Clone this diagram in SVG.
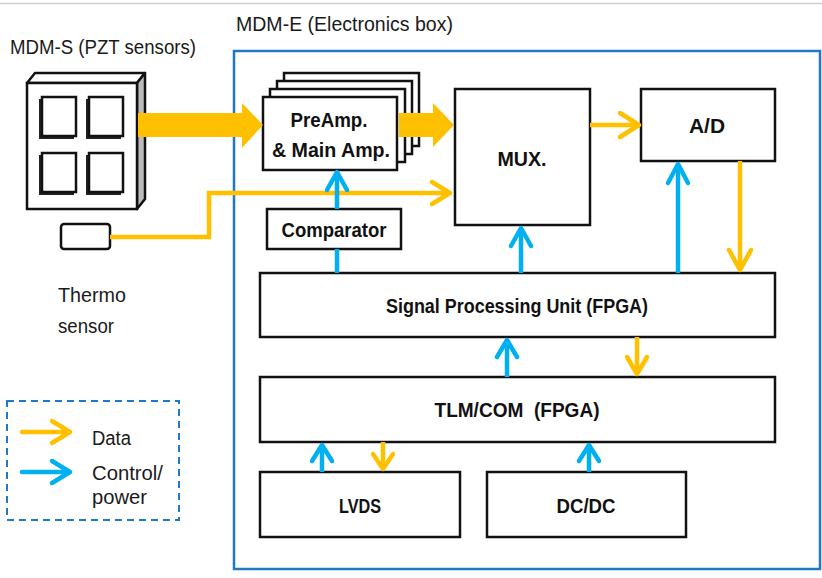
<svg xmlns="http://www.w3.org/2000/svg" width="822" height="578" viewBox="0 0 822 578">
<style>
.t{font-family:"Liberation Sans",Arial,sans-serif;font-size:20px;fill:#1a1a1a}
.b{font-family:"Liberation Sans",Arial,sans-serif;font-size:20px;font-weight:bold;fill:#111;text-anchor:middle}
.box{fill:#fff;stroke:#111;stroke-width:2.5}
.y{fill:none;stroke:#FFC000;stroke-width:4.5;stroke-linecap:round;stroke-linejoin:round}
.c{fill:none;stroke:#00B0F0;stroke-width:4.5;stroke-linecap:round;stroke-linejoin:round}
.ys{fill:none;stroke:#FFC000;stroke-width:4.5}
.cs{fill:none;stroke:#00B0F0;stroke-width:4.5}
</style>
<rect width="822" height="578" fill="#fff"/>
<line x1="0" y1="3.5" x2="822" y2="3.5" stroke="#cfcfcf" stroke-width="1.5"/>

<g id="title-e"><text class="t" x="236" y="31" textLength="217" lengthAdjust="spacingAndGlyphs">MDM-E (Electronics box)</text></g>
<g id="title-s"><text class="t" x="10" y="54" textLength="186" lengthAdjust="spacingAndGlyphs">MDM-S (PZT sensors)</text></g>

<g id="electronics-box"><rect x="234" y="51" width="586" height="518" fill="none" stroke="#1F78C8" stroke-width="2.5"/></g>

<g id="pzt-sensors">
<polygon points="27,83 35,73 145,73 137,83" fill="#fff" stroke="#111" stroke-width="2.5" stroke-linejoin="round"/>
<polygon points="137,83 145,73 145,199 137,209" fill="#bbb" stroke="#111" stroke-width="2.5" stroke-linejoin="round"/>
<rect x="27" y="83" width="110" height="126" class="box"/>
<rect x="39" y="99" width="35" height="40" fill="#222"/>
<rect x="42" y="97" width="34" height="39" fill="#fff" stroke="#111" stroke-width="2.5"/>
<rect x="86" y="99" width="35" height="40" fill="#222"/>
<rect x="89" y="97" width="34" height="39" fill="#fff" stroke="#111" stroke-width="2.5"/>
<rect x="39" y="155" width="35" height="40" fill="#222"/>
<rect x="42" y="153" width="34" height="39" fill="#fff" stroke="#111" stroke-width="2.5"/>
<rect x="86" y="155" width="35" height="40" fill="#222"/>
<rect x="89" y="153" width="34" height="39" fill="#fff" stroke="#111" stroke-width="2.5"/>
</g>

<g id="thermo-sensor">
<rect x="61" y="224" width="49" height="25" rx="3" class="box"/>
<text class="t" x="58" y="302" textLength="68" lengthAdjust="spacingAndGlyphs">Thermo</text>
<text class="t" x="58" y="333" textLength="56" lengthAdjust="spacingAndGlyphs">sensor</text>
</g>

<g id="preamp">
<rect x="284" y="73" width="135" height="73" class="box"/>
<rect x="277" y="81" width="135" height="73" class="box"/>
<rect x="270" y="89" width="135" height="73" class="box"/>
<rect x="263" y="97" width="134" height="73" class="box"/>
<text class="b" x="329" y="127" textLength="77" lengthAdjust="spacingAndGlyphs">PreAmp.</text>
<text class="b" x="331" y="157" textLength="118" lengthAdjust="spacingAndGlyphs">&amp; Main Amp.</text>
</g>

<g id="comparator">
<rect x="267" y="209" width="134" height="40" class="box"/>
<text class="b" x="334" y="237" textLength="105" lengthAdjust="spacingAndGlyphs">Comparator</text>
</g>

<g id="mux">
<rect x="455" y="89" width="135" height="136" class="box"/>
<text class="b" x="522" y="166" textLength="49" lengthAdjust="spacingAndGlyphs">MUX.</text>
</g>

<g id="ad">
<rect x="641" y="89" width="134" height="72" class="box"/>
<text class="b" x="707" y="133" textLength="36" lengthAdjust="spacingAndGlyphs">A/D</text>
</g>

<g id="spu">
<rect x="260" y="273" width="515" height="64" class="box"/>
<text class="b" x="517" y="313" textLength="262" lengthAdjust="spacingAndGlyphs">Signal Processing Unit (FPGA)</text>
</g>

<g id="tlm">
<rect x="260" y="377" width="515" height="65" class="box"/>
<text class="b" x="517" y="417" textLength="165" lengthAdjust="spacingAndGlyphs" xml:space="preserve">TLM/COM  (FPGA)</text>
</g>

<g id="lvds">
<rect x="260" y="472" width="200" height="65" class="box"/>
<text class="b" x="360" y="513" textLength="42" lengthAdjust="spacingAndGlyphs">LVDS</text>
</g>

<g id="dcdc">
<rect x="487" y="472" width="199" height="65" class="box"/>
<text class="b" x="586" y="513" textLength="59" lengthAdjust="spacingAndGlyphs">DC/DC</text>
</g>

<g id="connectors">
<polygon points="138,113 242,113 242,103 263,125 242,148 242,137 138,137" fill="#FFC000"/>
<polygon points="399,113 433,113 433,103 454,125 433,147 433,137 399,137" fill="#FFC000"/>
<path class="ys" d="M110,237 H209 V193 H449"/>
<path class="y" d="M432,182 L450,193 L432,204"/>
<line class="ys" x1="590" y1="125" x2="637" y2="125"/>
<path class="y" d="M620,113 L639,125 L620,137"/>
<line class="ys" x1="740" y1="161" x2="740" y2="268"/>
<path class="y" d="M729,250 L740,270 L751,250"/>
<line class="cs" x1="678" y1="273" x2="678" y2="165"/>
<path class="c" d="M668,183 L678,164 L688,183"/>
<line class="cs" x1="521" y1="273" x2="521" y2="229"/>
<path class="c" d="M511,246 L521,228 L531,246"/>
<line class="cs" x1="337" y1="273" x2="337" y2="249"/>
<line class="cs" x1="337" y1="209" x2="337" y2="173"/>
<path class="c" d="M327,190 L337,172 L347,190"/>
<line class="cs" x1="507" y1="377" x2="507" y2="341"/>
<path class="c" d="M497,357 L507,340 L517,357"/>
<line class="ys" x1="637" y1="337" x2="637" y2="373"/>
<path class="y" d="M627,357 L637,374 L647,357"/>
<line class="cs" x1="322" y1="472" x2="322" y2="446"/>
<path class="c" d="M312,461 L322,445 L332,461"/>
<line class="ys" x1="383" y1="442" x2="383" y2="468"/>
<path class="y" d="M373,454 L383,469 L393,454"/>
<line class="cs" x1="589" y1="472" x2="589" y2="446"/>
<path class="c" d="M579,461 L589,445 L599,461"/>
</g>

<g id="legend">
<rect x="7" y="401" width="172" height="119" fill="none" stroke="#1F78C8" stroke-width="2" stroke-dasharray="7,5"/>
<line class="y" x1="22" y1="432" x2="68" y2="432"/>
<path class="y" d="M52,421 L70,432 L52,443"/>
<line class="c" x1="22" y1="472" x2="68" y2="472"/>
<path class="c" d="M52,461 L70,472 L52,483"/>
<text class="t" x="92" y="445" textLength="39" lengthAdjust="spacingAndGlyphs">Data</text>
<text class="t" x="92" y="480" textLength="71" lengthAdjust="spacingAndGlyphs">Control/</text>
<text class="t" x="92" y="504" textLength="55" lengthAdjust="spacingAndGlyphs">power</text>
</g>
</svg>
